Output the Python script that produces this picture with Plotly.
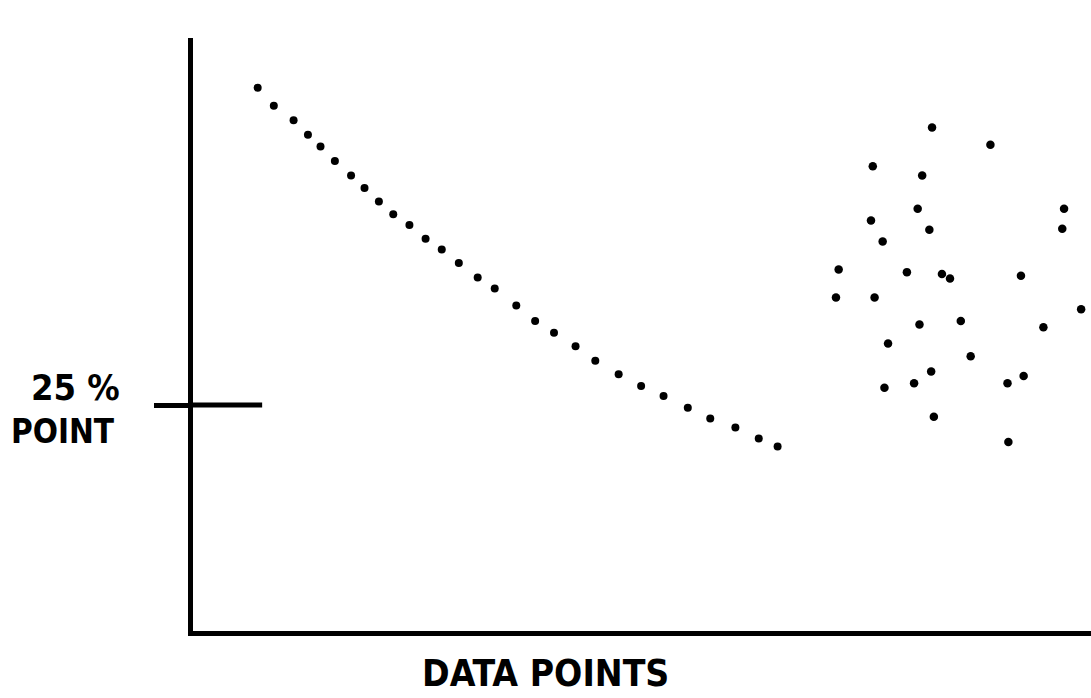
import plotly.graph_objects as go

# Dotted curve (x: arbitrary units 0-100, y: percent)
curve_x = [7.2, 9.0, 11.2, 12.8, 14.2, 15.8, 17.6, 19.1, 20.7, 22.3, 24.1, 25.9, 27.7, 29.6,
           31.7, 33.6, 36.0, 38.1, 40.2, 42.6, 44.8, 47.4, 49.9, 52.4, 55.1, 57.6, 60.4, 63.0, 65.1]
curve_y = [60.1, 58.1, 56.5, 54.9, 53.6, 52.0, 50.4, 49.0, 47.5, 46.1, 44.9, 43.4, 42.2, 40.7,
           39.1, 37.9, 36.0, 34.3, 33.0, 31.5, 29.9, 28.4, 27.1, 26.0, 24.7, 23.5, 22.5, 21.3, 20.4]

# Scattered cluster
scatter_x = [82.3, 88.8, 75.7, 81.2, 80.7, 97.0, 75.5, 82.0, 96.8, 76.8, 71.9, 79.5, 83.4, 84.3, 92.2,
             71.6, 75.9, 98.9, 80.9, 85.5, 94.7, 77.4, 86.6, 82.2, 92.5, 77.0, 80.3, 90.7, 82.5, 90.8]
scatter_y = [55.7, 53.8, 51.4, 50.4, 46.7, 46.7, 45.4, 44.4, 44.5, 43.1, 40.0, 39.7, 39.5, 39.0, 39.3,
             36.9, 36.9, 35.6, 33.9, 34.3, 33.6, 31.8, 30.4, 28.7, 28.2, 26.9, 27.4, 27.4, 23.7, 20.9]

tick_value = 25
tick_label_top = "25 %"
tick_label_bottom = "POINT"
x_title = "DATA POINTS"

FONT = "DejaVu Sans Condensed"

fig = go.Figure()
fig.add_trace(go.Scatter(x=curve_x, y=curve_y, mode="markers",
                         marker=dict(color="black", size=8), showlegend=False, hoverinfo="skip"))
fig.add_trace(go.Scatter(x=scatter_x, y=scatter_y, mode="markers",
                         marker=dict(color="black", size=8.5), showlegend=False, hoverinfo="skip"))

# inner part of the 25% tick
fig.add_shape(type="line", xref="x", yref="y", x0=0, x1=7.7, y0=tick_value, y1=tick_value,
              line=dict(color="black", width=5))

fig.add_annotation(text=tick_label_top, xref="paper", yref="paper", x=-0.131, y=0.41,
                   xanchor="center", yanchor="middle", showarrow=False,
                   font=dict(family=FONT, size=36, color="black", weight="bold"))
fig.add_annotation(text=tick_label_bottom, xref="paper", yref="paper", x=-0.145, y=0.337,
                   xanchor="center", yanchor="middle", showarrow=False,
                   font=dict(family=FONT, size=33, color="black", weight="bold"))
fig.add_annotation(text=x_title, xref="paper", yref="paper", x=0.393, y=-0.0725,
                   xanchor="center", yanchor="middle", showarrow=False,
                   font=dict(family=FONT, size=37, color="black", weight="bold"))

fig.update_layout(
    width=1091, height=698,
    margin=dict(l=193, r=0, t=38, b=67),
    paper_bgcolor="white", plot_bgcolor="white",
    xaxis=dict(range=[0, 100], showgrid=False, zeroline=False, showticklabels=False,
               showline=True, linewidth=5, linecolor="black", ticks=""),
    yaxis=dict(range=[0, 65.6], showgrid=False, zeroline=False, showticklabels=False,
               showline=True, linewidth=5, linecolor="black",
               tickvals=[tick_value], ticks="outside", ticklen=34, tickwidth=5, tickcolor="black"),
)

fig.write_html("out.html", config={"displayModeBar": False},
               post_script="document.body.style.margin='0';document.body.style.padding='0';")
